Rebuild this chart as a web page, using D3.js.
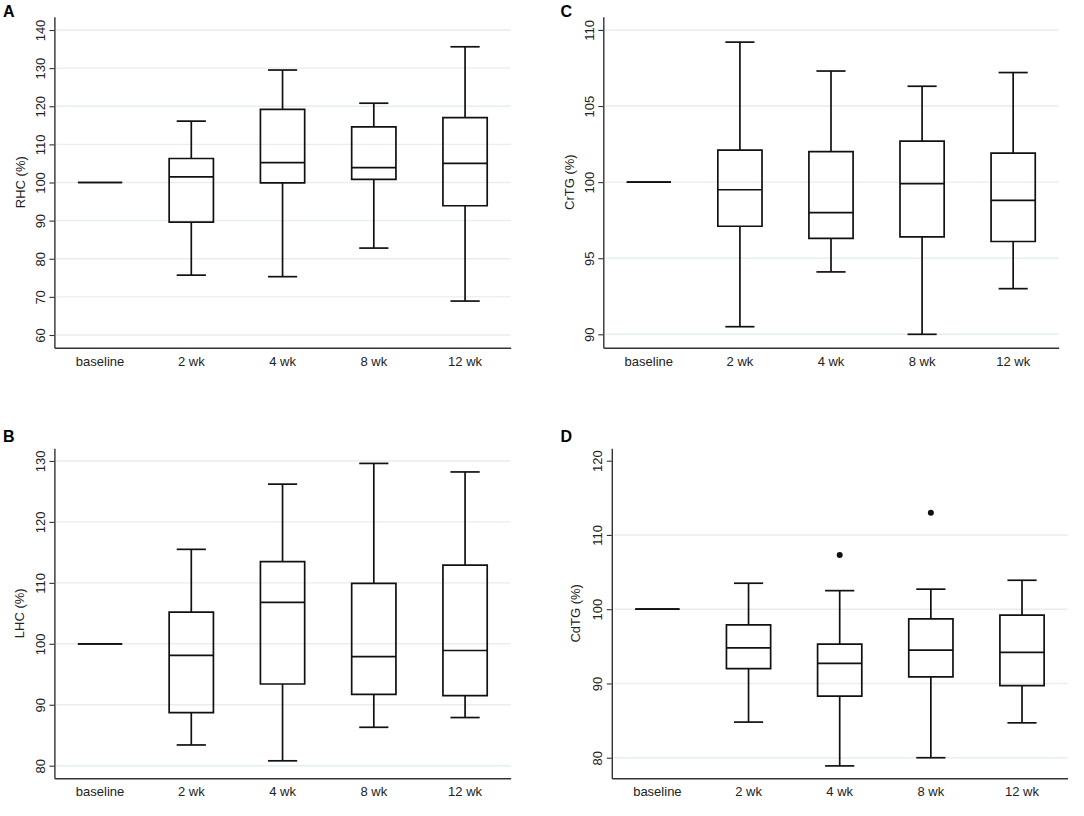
<!DOCTYPE html>
<html>
<head>
<meta charset="utf-8">
<script src="https://cdn.jsdelivr.net/npm/d3@7"></script>
<style>
  body { margin: 0; background: #fff; }
  svg text { font-family: "Liberation Sans", Arial, sans-serif; fill: #222; }
</style>
</head>
<body>
<div id="chart"></div>
<script>
// categories on x axis
var categories = ["baseline", "2 wk", "4 wk", "8 wk", "12 wk"];

// A - RHC
var rhcLow  = [100, 75.7, 75.3, 82.8, 68.9];
var rhcQ1   = [100, 89.6, 99.9, 100.8, 93.9];
var rhcMed  = [100, 101.5, 105.2, 103.9, 105.0];
var rhcQ3   = [100, 106.3, 119.2, 114.6, 117.0];
var rhcHigh = [100, 116.1, 129.5, 120.8, 135.6];
var rhcTicks = [60, 70, 80, 90, 100, 110, 120, 130, 140];

// B - LHC
var lhcLow  = [100, 83.4, 80.8, 86.3, 87.9];
var lhcQ1   = [100, 88.7, 93.4, 91.7, 91.5];
var lhcMed  = [100, 98.1, 106.8, 97.9, 98.9];
var lhcQ3   = [100, 105.2, 113.5, 109.9, 112.9];
var lhcHigh = [100, 115.5, 126.2, 129.6, 128.2];
var lhcTicks = [80, 90, 100, 110, 120, 130];

// C - CrTG
var crtgLow  = [100, 90.5, 94.1, 90.0, 93.0];
var crtgQ1   = [100, 97.1, 96.3, 96.4, 96.1];
var crtgMed  = [100, 99.5, 98.0, 99.9, 98.8];
var crtgQ3   = [100, 102.1, 102.0, 102.7, 101.9];
var crtgHigh = [100, 109.2, 107.3, 106.3, 107.2];
var crtgTicks = [90, 95, 100, 105, 110];

// D - CdTG
var cdtgLow  = [100, 84.8, 78.9, 80.0, 84.7];
var cdtgQ1   = [100, 92.0, 88.3, 90.9, 89.7];
var cdtgMed  = [100, 94.8, 92.7, 94.5, 94.2];
var cdtgQ3   = [100, 97.9, 95.3, 98.7, 99.2];
var cdtgHigh = [100, 103.5, 102.5, 102.7, 103.9];
var cdtgOutCat = ["4 wk", "8 wk"];
var cdtgOutVal = [107.3, 113.0];
var cdtgTicks = [80, 90, 100, 110, 120];

var svg = d3.select("#chart").append("svg")
  .attr("width", 1084)
  .attr("height", 816);

var panels = [
  { letter: "A", title: "RHC (%)", low: rhcLow, q1: rhcQ1, med: rhcMed, q3: rhcQ3, high: rhcHigh,
    ticks: rhcTicks, domain: [56.67, 143.49], outCat: [], outVal: [],
    left: 54.4, top: 16.7, right: 510.7, bottom: 347.7, letterX: 3, letterY: 17, titleX: 24.5 },
  { letter: "C", title: "CrTG (%)", low: crtgLow, q1: crtgQ1, med: crtgMed, q3: crtgQ3, high: crtgHigh,
    ticks: crtgTicks, domain: [89.12, 110.87], outCat: [], outVal: [],
    left: 603.3, top: 16.7, right: 1058.7, bottom: 347.7, letterX: 560.5, letterY: 17, titleX: 574.3 },
  { letter: "B", title: "LHC (%)", low: lhcLow, q1: lhcQ1, med: lhcMed, q3: lhcQ3, high: lhcHigh,
    ticks: lhcTicks, domain: [77.93, 132.08], outCat: [], outVal: [],
    left: 54.4, top: 448.3, right: 510.7, bottom: 778.3, letterX: 3, letterY: 442, titleX: 24 },
  { letter: "D", title: "CdTG (%)", low: cdtgLow, q1: cdtgQ1, med: cdtgMed, q3: cdtgQ3, high: cdtgHigh,
    ticks: cdtgTicks, domain: [77.23, 121.67], outCat: cdtgOutCat, outVal: cdtgOutVal, noGrid: [120],
    left: 611.8, top: 448.3, right: 1067.6, bottom: 778.3, letterX: 560.5, letterY: 442, titleX: 580 }
];

panels.forEach(function(p) {
  var g = svg.append("g");

  var x = d3.scaleBand()
    .domain(categories)
    .range([p.left, p.right])
    .padding(0);

  var y = d3.scaleLinear()
    .domain(p.domain)
    .range([p.bottom, p.top]);

  var bw = x.bandwidth();
  var boxW = bw * 0.485;
  var capW = bw * 0.32;

  // gridlines
  g.selectAll(".grid")
    .data(p.ticks.filter(function(t) { return !(p.noGrid || []).includes(t); }))
    .enter()
    .append("line")
    .attr("x1", p.left + 2)
    .attr("x2", p.right)
    .attr("y1", function(d) { return y(d); })
    .attr("y2", function(d) { return y(d); })
    .attr("stroke", "#e6eef1")
    .attr("stroke-width", 1.4);

  // y axis
  var yAxis = g.append("g")
    .attr("transform", "translate(" + p.left + ",0)")
    .call(d3.axisLeft(y).tickValues(p.ticks).tickSize(5).tickSizeOuter(0).tickFormat(d3.format("d")));
  yAxis.select(".domain").attr("stroke", "#333").attr("stroke-width", 1.4);
  yAxis.selectAll(".tick line").attr("stroke", "#333").attr("stroke-width", 1.1);
  yAxis.selectAll(".tick text")
    .attr("transform", "rotate(-90)")
    .attr("x", 0)
    .attr("y", -9.5)
    .attr("dy", 0)
    .attr("text-anchor", "middle")
    .style("font-size", "13px")
    .style("font-family", "'Liberation Sans', Arial, sans-serif")
    .attr("fill", "#222");

  // x axis
  var xAxis = g.append("g")
    .attr("transform", "translate(0," + p.bottom + ")")
    .call(d3.axisBottom(x).tickSize(0).tickSizeOuter(0));
  xAxis.select(".domain").attr("stroke", "#333").attr("stroke-width", 1.4);
  xAxis.selectAll(".tick text")
    .attr("y", 18)
    .attr("dy", 0)
    .style("font-size", "13px")
    .style("font-family", "'Liberation Sans', Arial, sans-serif")
    .attr("fill", "#222");

  // box plot data rows
  var rows = categories.map(function(c, i) {
    return { cat: c, low: p.low[i], q1: p.q1[i], med: p.med[i], q3: p.q3[i], high: p.high[i] };
  });

  var boxes = g.selectAll(".box")
    .data(rows)
    .enter()
    .append("g");

  var stroke = "#111";
  var sw = 1.7;

  // whiskers
  boxes.filter(function(d) { return d.high > d.q3; })
    .append("line")
    .attr("x1", function(d) { return x(d.cat) + bw / 2; })
    .attr("x2", function(d) { return x(d.cat) + bw / 2; })
    .attr("y1", function(d) { return y(d.q3); })
    .attr("y2", function(d) { return y(d.high); })
    .attr("stroke", stroke).attr("stroke-width", sw);
  boxes.filter(function(d) { return d.low < d.q1; })
    .append("line")
    .attr("x1", function(d) { return x(d.cat) + bw / 2; })
    .attr("x2", function(d) { return x(d.cat) + bw / 2; })
    .attr("y1", function(d) { return y(d.q1); })
    .attr("y2", function(d) { return y(d.low); })
    .attr("stroke", stroke).attr("stroke-width", sw);

  // caps
  boxes.filter(function(d) { return d.high > d.q3; })
    .append("line")
    .attr("x1", function(d) { return x(d.cat) + bw / 2 - capW / 2; })
    .attr("x2", function(d) { return x(d.cat) + bw / 2 + capW / 2; })
    .attr("y1", function(d) { return y(d.high); })
    .attr("y2", function(d) { return y(d.high); })
    .attr("stroke", stroke).attr("stroke-width", sw);
  boxes.filter(function(d) { return d.low < d.q1; })
    .append("line")
    .attr("x1", function(d) { return x(d.cat) + bw / 2 - capW / 2; })
    .attr("x2", function(d) { return x(d.cat) + bw / 2 + capW / 2; })
    .attr("y1", function(d) { return y(d.low); })
    .attr("y2", function(d) { return y(d.low); })
    .attr("stroke", stroke).attr("stroke-width", sw);

  // box (path so a zero-height box still shows as a line)
  boxes.append("path")
    .attr("d", function(d) {
      var x0 = x(d.cat) + bw / 2 - boxW / 2;
      var x1 = x0 + boxW;
      return "M" + x0 + "," + y(d.q3) + "H" + x1 + "V" + y(d.q1) + "H" + x0 + "Z";
    })
    .attr("fill", "none")
    .attr("stroke", stroke).attr("stroke-width", sw);

  // median
  boxes.append("line")
    .attr("x1", function(d) { return x(d.cat) + bw / 2 - boxW / 2; })
    .attr("x2", function(d) { return x(d.cat) + bw / 2 + boxW / 2; })
    .attr("y1", function(d) { return y(d.med); })
    .attr("y2", function(d) { return y(d.med); })
    .attr("stroke", stroke).attr("stroke-width", sw);

  // outliers
  g.selectAll(".outlier")
    .data(p.outCat.map(function(c, i) { return { cat: c, v: p.outVal[i] }; }))
    .enter()
    .append("circle")
    .attr("cx", function(d) { return x(d.cat) + bw / 2; })
    .attr("cy", function(d) { return y(d.v); })
    .attr("r", 3)
    .attr("fill", "#111");

  // y axis title
  g.append("text")
    .attr("transform", "translate(" + p.titleX + "," + ((p.top + p.bottom) / 2) + ") rotate(-90)")
    .attr("text-anchor", "middle")
    .style("font-size", "13px")
    .text(p.title);

  // panel letter
  g.append("text")
    .attr("x", p.letterX)
    .attr("y", p.letterY)
    .style("font-size", "16px")
    .style("font-weight", "bold")
    .style("fill", "#000")
    .text(p.letter);
});
</script>
</body>
</html>
